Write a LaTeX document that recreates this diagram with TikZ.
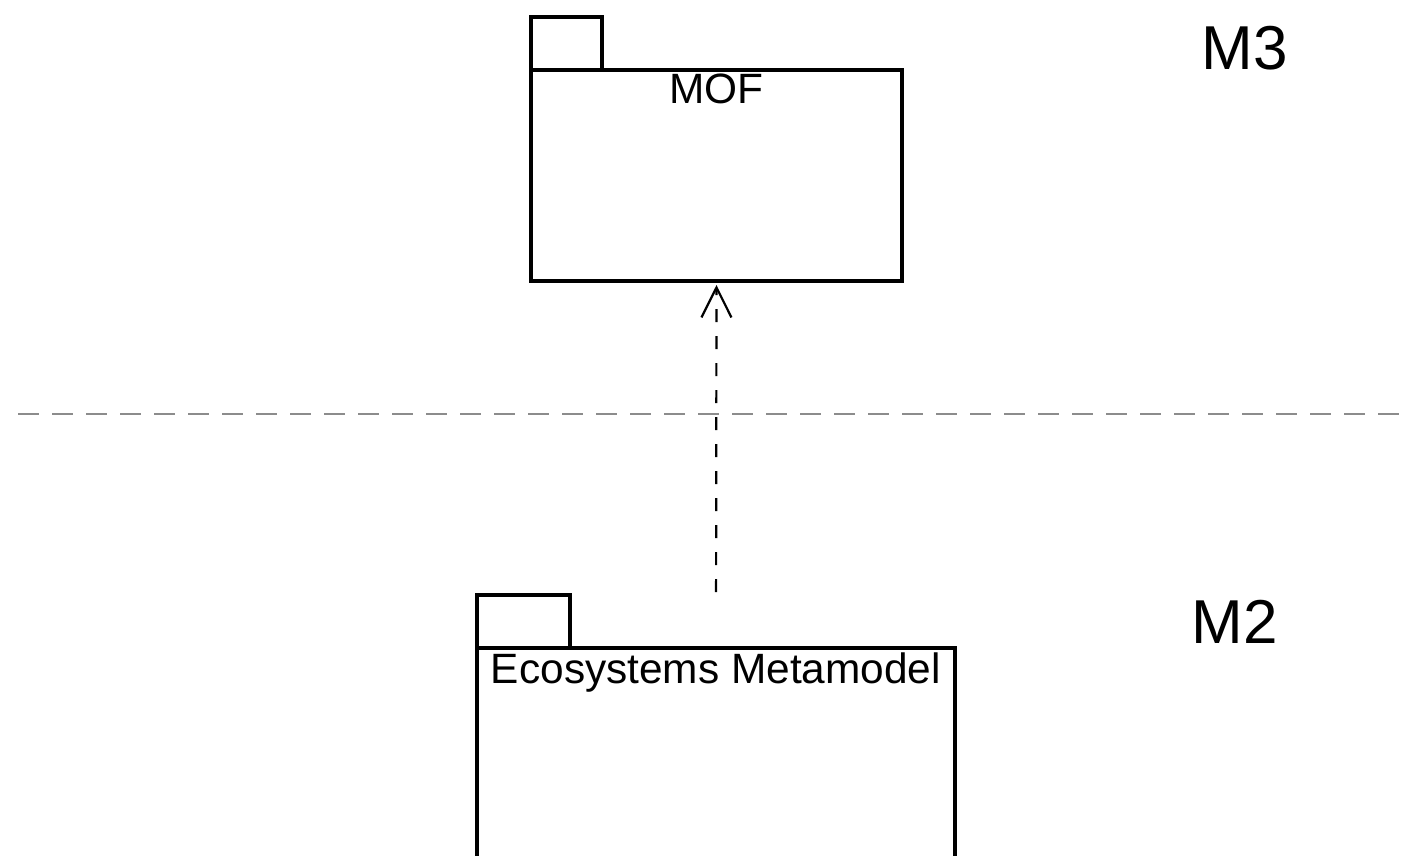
\documentclass[tikz,border=0pt]{standalone}
\usepackage{fontspec}
\setmainfont{Liberation Sans}
\usetikzlibrary{positioning,arrows.meta}
\definecolor{layergray}{gray}{0.55}
\begin{document}
\begin{tikzpicture}[x=0.5pt,y=-0.5pt,
  pkgbody/.style={draw, line width=2.4pt, rectangle, inner sep=0pt, outer sep=0pt},
  pkgtab/.style={draw, line width=2.4pt, rectangle, inner sep=0pt, outer sep=0pt, minimum width=#1, minimum height=26.5pt, anchor=south west},
  pkglabel/.style={font=\fontsize{21.2}{25}\selectfont, inner sep=0pt, anchor=base},
  levellabel/.style={font=\fontsize{31}{36}\selectfont, inner sep=0pt, anchor=base},
  conformsto/.style={line width=1.1pt, dash pattern=on 6.5pt off 7pt, -{Straight Barb[length=15pt,width=15pt,line width=1.1pt]}},
  layerline/.style={draw=layergray, line width=1pt, dash pattern=on 10.5pt off 6.5pt}]
\useasboundingbox (0,0) rectangle (1408,856);
\clip (0,0) rectangle (1408,856);
\node[pkgbody, minimum width=185.5pt, minimum height=105.5pt] (mof) at (716.5,175.5) {};
\node[pkgtab=35.5pt] (moftab) at (mof.north west) {};
\node[pkglabel] (moflabel) at ([yshift=-17pt]mof.north) {MOF};
\node[pkgbody, minimum width=239pt, minimum height=150pt] (eco) at (716,798) {};
\node[pkgtab=46.5pt] (ecotab) at (eco.north west) {};
\node[pkglabel] (ecolabel) at ([yshift=-17.5pt]eco.north) {Ecosystems Metamodel};
\node[levellabel] (mthree) at (1245,70) {M3};
\node[levellabel] (mtwo) at (1234.5,643) {M2};
\coordinate (layerleft) at (18,414);
\coordinate (layerright) at (1408,414);
\draw[layerline] (layerleft) -- (layerright);
\draw[conformsto, shorten <=28pt, shorten >=2pt] (eco.north) -- (mof.south);
\end{tikzpicture}
\end{document}
